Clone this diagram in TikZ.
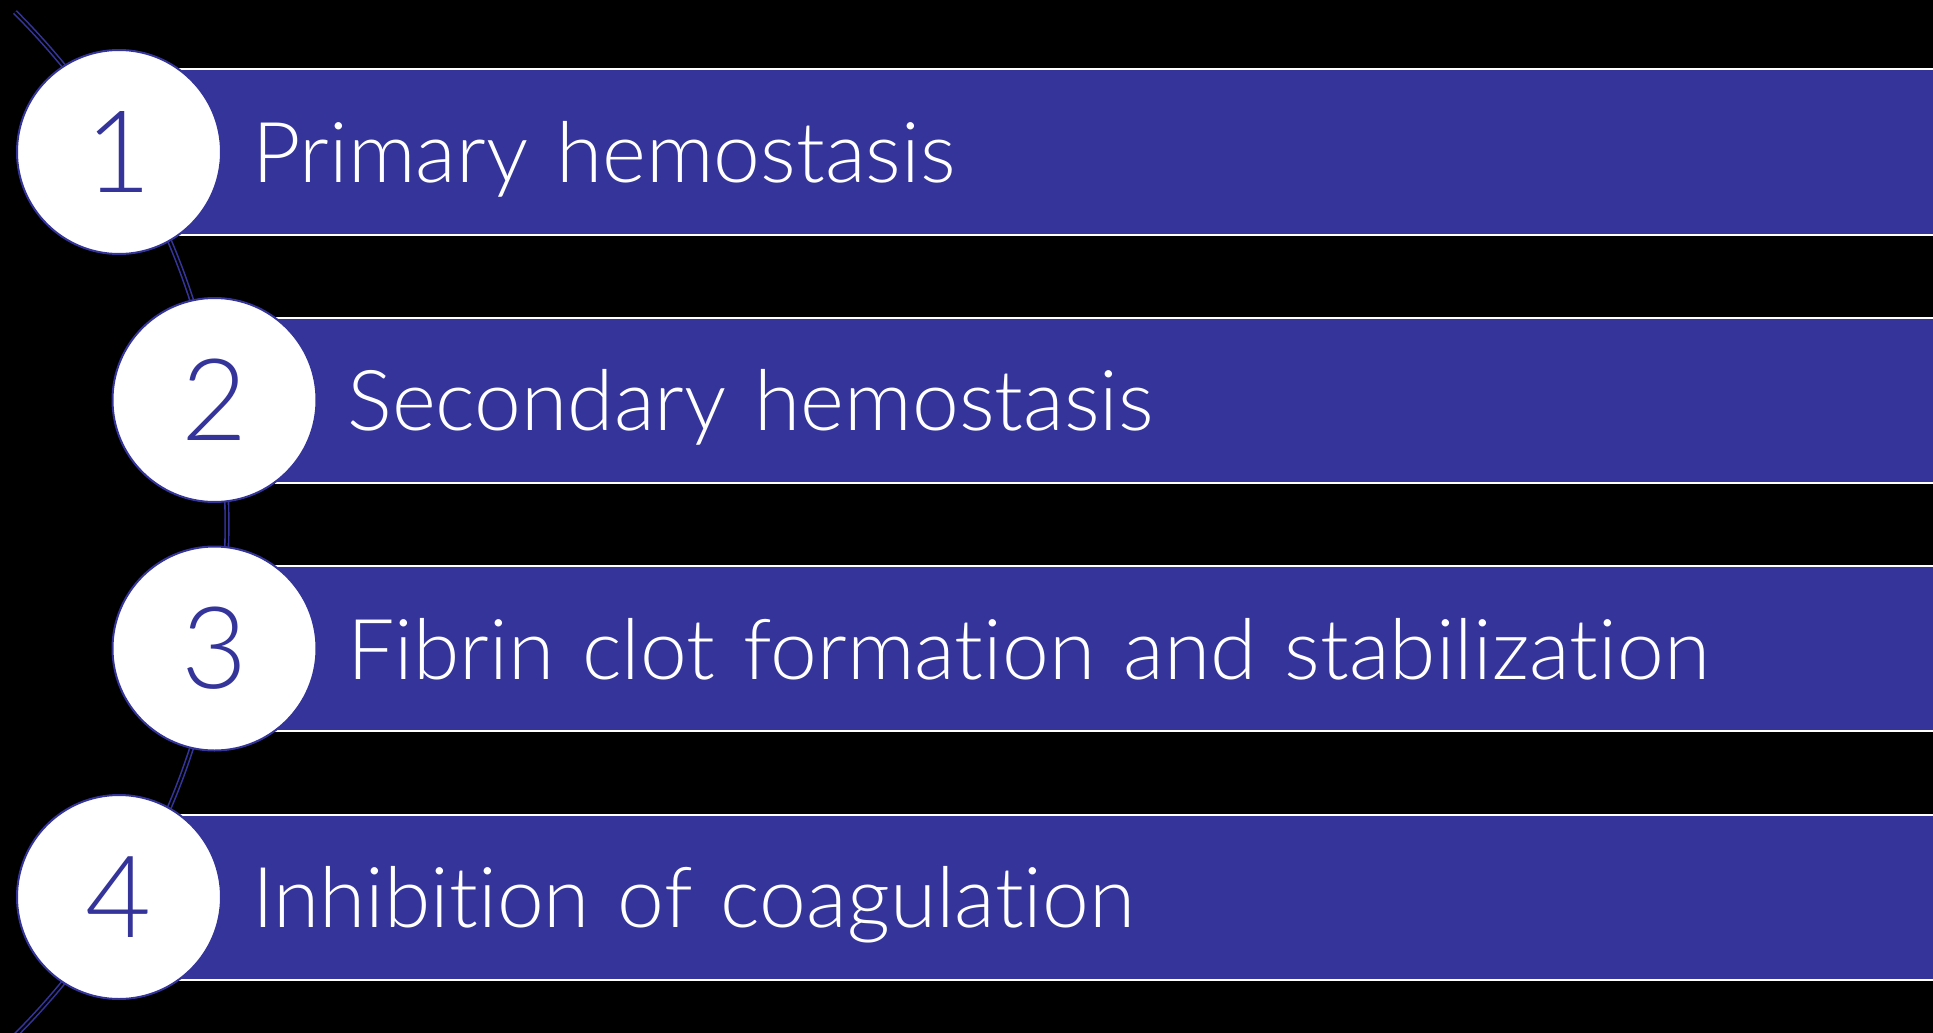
\documentclass[tikz,border=0pt]{standalone}
\usepackage{fontspec}
\setmainfont{Lato}[UprightFont=* Light, Ligatures=NoCommon]
\usetikzlibrary{positioning}
\definecolor{cBar}{HTML}{34349A}
\tikzset{
  num/.style ={circle, draw=cBar, line width=2pt, fill=white, text=cBar,
               minimum size=204pt, inner sep=0pt, font=\fontsize{114}{120}\selectfont},
  bar/.style ={rectangle, draw=white, line width=2pt, fill=cBar, text=white,
               anchor=west, text width=1652pt, inner xsep=72pt, align=left,
               minimum height=165pt, text height=61pt, text depth=0pt,
               font=\fontsize{84}{90}\selectfont},
  link/.style={draw=cBar, line width=1.6pt, double=black, double distance=2pt},
}
\begin{document}
\begin{tikzpicture}[x=1pt,y=-1pt]
  \fill[black] (0,0) rectangle (1933,1033);
  \useasboundingbox (0,0) rectangle (1933,1033);
  % curved spine behind the steps
  \coordinate (spine) at (-497,524);
  \draw[link] (spine) ++(45:724) arc[start angle=45,end angle=-45,radius=724];
  % steps
  \coordinate (c1) at (119,152);
  \coordinate (c2) at (214.5,400);
  \coordinate (c3) at (214.5,648.5);
  \coordinate (c4) at (119,897);
  \node[bar] (b1) at ([xshift=60pt]c1) {Primary hemostasis};
  \node[bar] (b2) at ([xshift=60pt]c2) {Secondary hemostasis};
  \node[bar] (b3) at ([xshift=60pt]c3) {Fibrin clot formation and stabilization};
  \node[bar] (b4) at ([xshift=60pt]c4) {Inhibition of coagulation};
  \node[num] (n1) at (c1) {1};
  \node[num] (n2) at (c2) {2};
  \node[num] (n3) at (c3) {3};
  \node[num] (n4) at (c4) {4};
\end{tikzpicture}
\end{document}
